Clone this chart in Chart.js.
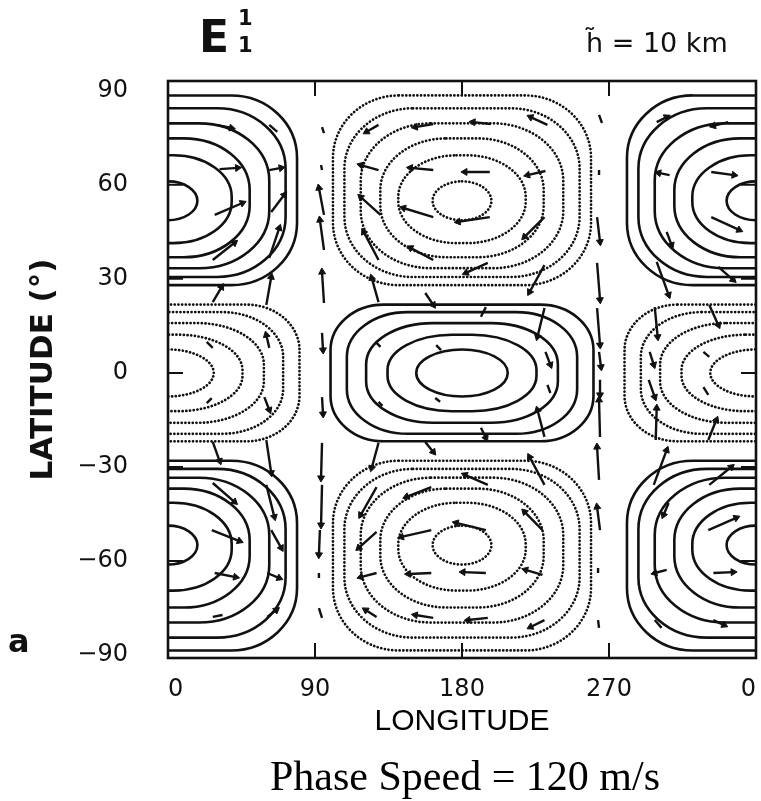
<!DOCTYPE html>
<html lang="en">
<head>
<meta charset="UTF-8">
<title>E 1 1 mode, h = 10 km</title>
<script src="https://cdn.jsdelivr.net/npm/chart.js"></script>
<style>
  body { margin: 0; background: #fff; }
</style>
</head>
<body>
<canvas id="modeChart" width="761" height="801"></canvas>
<script>
// axes
const latTicks = [-90, -60, -30, 0, 30, 60, 90];
const lonTicks = [0, 90, 180, 270, 360];
const lonTickLabels = ['0', '90', '180', '270', '0'];

// contour families (degrees)
// mid-latitude cells: half width in longitude, equator-side and pole-side latitude
const polarHalfLon = [18, 39, 50, 62, 72, 79];
const polarLatNear = [48.7, 41.4, 36.9, 33.4, 30.6, 28.0];
const polarLatFar = [61.1, 69.4, 74.8, 79.6, 84.4, 88.5];
// equatorial cells: half width in longitude and half height in latitude
const eqHalfLon = [28, 45.6, 58.7, 70.5, 80.5];
const eqHalfLat = [7.5, 12.2, 15.9, 19.4, 21.8];

// cells: centre longitude, family, hemisphere (1 north, -1 south, 0 equator), sign (1 solid, -1 dotted)
const cellLon = [0, 360, 0, 360, 180, 180, 180, 0, 360];
const cellFamily = ['polar', 'polar', 'polar', 'polar', 'eq', 'polar', 'polar', 'eq', 'eq'];
const cellHemi = [1, 1, -1, -1, 0, 1, -1, 0, 0];
const cellSign = [1, 1, 1, 1, 1, -1, -1, -1, -1];

// wind vectors: tail and head as [lon, lat]
const arrowTail = [
  [29.8, 79.1], [62, 79.1], [31.6, 65], [62, 64.7], [28.6, 50.4], [63.2, 51.3], [27.4, 36], [62, 36.7], [27.4, 22.6], [60.2, 21.7],
  [94.3, 78.4], [93.7, 66.3], [95.5, 50.4], [95.5, 39.2], [95.5, 22.3], [94.3, 12.8], [94.3, -7.7], [94.3, -22.3], [94.3, -35.7], [93, -50.1], [92.4, -63.8], [92.4, -75],
  [128.9, 79.1], [162.4, 79.4], [197.6, 79.4], [232.3, 79.1], [128.9, 64.7], [162.4, 64.7], [197, 64.1], [231.1, 64.4],
  [130.1, 50.4], [162.4, 49.7], [197, 49.7], [230.5, 49.7], [128.9, 36], [162.4, 36], [195.8, 35.1], [230.5, 34.4], [128.9, 22.6], [157.5, 25.5],
  [263.9, 82.3], [263.9, 64.7], [262.7, 49.7], [262.7, 35.1], [262.7, 20.7], [263.9, 6.7],
  [264.5, -2.2], [264.5, -20.4], [263.9, -34.1], [264.5, -50.1], [263.3, -62.2], [263.3, -78.8],
  [128.9, -22.3], [230.5, -35.7], [195.8, -35.7], [161.2, -36.4], [127.7, -36.4], [229.3, -50.1], [194.6, -50.1], [161.2, -50.1], [127.7, -50.7],
  [229.3, -64.4], [194.6, -63.8], [161.2, -63.8], [127.7, -63.8], [127.7, -77.8], [162.4, -78.1], [195.8, -78.1], [230.5, -78.8], [157.5, -22],
  [191.6, 17.9], [230.5, 20.7], [231.1, 6.7], [164.2, 8.9], [127.7, 9.6], [128.9, -9.2], [163.6, -8], [232.3, -3.8], [230.5, -20.4], [191.6, -17.5],
  [299.2, 80], [343, 80], [307.1, 63.1], [332.6, 64.1], [332.6, 49.7], [305.3, 45], [336.9, 33.8], [299.2, 35.4],
  [298, 21], [331.4, 21.7], [294.9, 6.7], [327.8, 6.7], [294.3, -2.2], [327.8, -4.5], [298.6, -21.4], [330.8, -21.4],
  [297.4, -35.7], [331.4, -35.7], [306.5, -41.5], [330.8, -50.1], [305.3, -62.8], [333.9, -63.8], [298, -78.8], [333.9, -78.8],
  [27.4, -22], [60.2, -21.4], [27.4, -35.1], [60.2, -35.7], [63.2, -50.1], [26.8, -50.1], [28.6, -63.8], [60.8, -63.8], [33.4, -77.2], [60.8, -77.8],
  [23.7, 9.9], [62, 8], [23.7, -9.6], [59, -7.7]
];
const arrowHead = [
  [38.9, 78.1], [66.9, 76.9], [42.6, 65.4], [69.3, 65.4], [45.6, 54.2], [71.2, 56.8], [40.7, 41.5], [68.1, 46.2], [32.8, 27.4], [63.2, 30.6],
  [95.5, 76.5], [94.3, 64.7], [92.4, 59], [93, 48.8], [94.3, 32.2], [94.9, 7.3], [94.9, -13.1], [93.7, -33.5], [93.7, -48.5], [92.4, -58], [92.4, -65.4], [94.3, -78.1],
  [121.6, 76.9], [151.4, 78.4], [186.7, 80], [222, 81.6], [118, 66.3], [148.4, 65.4], [181.8, 64.1], [220.1, 63.1],
  [118, 56.1], [144.1, 52.6], [177.6, 48.2], [218.3, 43.4], [119.8, 45], [148.4, 39.9], [182.4, 31.9], [221.4, 25.8], [124.7, 30.3], [162.4, 21.7],
  [265.7, 79.7], [263.9, 63.1], [264.5, 41.8], [264.5, 23.3], [264.5, 8.9], [265.1, 1.9],
  [264.5, -7], [263.9, -8.6], [262.7, -23.6], [262.7, -42.7], [263.3, -63.8], [263.9, -81.3],
  [124.7, -30.3], [221.4, -26.8], [181.8, -32.5], [146, -39.5], [118, -45.3], [218.3, -44.3], [176.4, -47.8], [142.9, -52.3], [116.8, -55.8],
  [218.9, -62.8], [180.6, -63.5], [147.2, -64.1], [118, -65.1], [121, -75.6], [151.4, -77.2], [183.7, -78.8], [222, -81], [162.4, -25.2],
  [194.6, 21], [226.2, 11.5], [234.1, 2.6], [167.2, 7.3], [130.1, 8.3], [131.3, -10.5], [166.6, -9.2], [234.1, -6.4], [226.2, -11.8], [194.6, -20.7],
  [305.3, 81.6], [333.9, 78.8], [300.4, 63.8], [346.6, 63.1], [349.7, 45.6], [308.3, 40.8], [346, 29.7], [306.5, 24.9],
  [299.8, 11.5], [336.9, 15.3], [297.4, 2.6], [331.4, 5.1], [298, -7.7], [330.8, -7], [299.2, -11.2], [335.7, -15],
  [305.3, -24.6], [344.8, -30], [303.4, -45.3], [347.9, -46.2], [298, -63.8], [346, -63.5], [302.2, -81.3], [340.5, -80.4],
  [31.6, -28.1], [63.2, -31.9], [40.7, -41.1], [65.1, -45.9], [69.3, -55.8], [43.8, -53.6], [41.4, -65.1], [68.1, -65.4], [27.4, -77.8], [66.3, -75.6],
  [27.4, 8], [60.2, 12.1], [26.8, -8], [62, -11.8]
];

// shape of each contour: 1 = ellipse, 0 = box with round corners
const polarRound = [1, 0.85, 0.65, 0.45, 0.25, 0.1];
const eqRound = [1, 0.8, 0.55, 0.3, 0.12];

const INK = '#111';
const KAPPA = 0.5523;

function roundedBox(ctx, x0, y0, x1, y1, rx, ry) {
  const kx = rx * KAPPA, ky = ry * KAPPA;
  ctx.moveTo(x0 + rx, y0);
  ctx.lineTo(x1 - rx, y0);
  ctx.bezierCurveTo(x1 - rx + kx, y0, x1, y0 + ry - ky, x1, y0 + ry);
  ctx.lineTo(x1, y1 - ry);
  ctx.bezierCurveTo(x1, y1 - ry + ky, x1 - rx + kx, y1, x1 - rx, y1);
  ctx.lineTo(x0 + rx, y1);
  ctx.bezierCurveTo(x0 + rx - kx, y1, x0, y1 - ry + ky, x0, y1 - ry);
  ctx.lineTo(x0, y0 + ry);
  ctx.bezierCurveTo(x0, y0 + ry - ky, x0 + rx - kx, y0, x0 + rx, y0);
  ctx.closePath();
}

const contourPlugin = {
  id: 'contours',
  beforeDatasetsDraw(chart) {
    const { ctx, chartArea: a, scales: { x, y } } = chart;
    ctx.save();
    ctx.beginPath();
    ctx.rect(a.left, a.top, a.width, a.height);
    ctx.clip();
    ctx.strokeStyle = INK;
    cellLon.forEach((c, i) => {
      const polar = cellFamily[i] === 'polar';
      const n = polar ? polarHalfLon.length : eqHalfLon.length;
      if (cellSign[i] > 0) {
        ctx.setLineDash([]);
        ctx.lineWidth = 2.6;
        ctx.lineCap = 'butt';
      } else {
        ctx.setLineDash([0.1, 3.6]);
        ctx.lineWidth = 2.7;
        ctx.lineCap = 'round';
      }
      for (let k = 0; k < n; k++) {
        let hw, latLo, latHi, t;
        if (polar) {
          hw = polarHalfLon[k];
          latLo = polarLatNear[k];
          latHi = polarLatFar[k];
          if (cellHemi[i] < 0) [latLo, latHi] = [-latHi, -latLo];
          t = polarRound[k];
        } else {
          hw = eqHalfLon[k];
          latLo = -eqHalfLat[k];
          latHi = eqHalfLat[k];
          t = eqRound[k];
        }
        const px0 = x.getPixelForValue(c - hw), px1 = x.getPixelForValue(c + hw);
        const py0 = y.getPixelForValue(latHi), py1 = y.getPixelForValue(latLo);
        const hx = (px1 - px0) / 2, hy = (py1 - py0) / 2;
        const r = 0.62 * Math.min(hx, hy);
        ctx.beginPath();
        roundedBox(ctx, px0, py0, px1, py1, r + (hx - r) * t, r + (hy - r) * t);
        ctx.stroke();
      }
    });
    ctx.restore();
  }
};

const framePlugin = {
  id: 'frame',
  afterDatasetsDraw(chart) {
    const { ctx, chartArea: a, scales: { x, y } } = chart;
    ctx.save();
    ctx.strokeStyle = INK;
    ctx.lineWidth = 2;
    ctx.beginPath();
    lonTicks.slice(1, -1).forEach(v => {
      const px = x.getPixelForValue(v);
      ctx.moveTo(px, a.top); ctx.lineTo(px, a.top + 15);
      ctx.moveTo(px, a.bottom); ctx.lineTo(px, a.bottom - 15);
    });
    latTicks.slice(1, -1).forEach(v => {
      const py = y.getPixelForValue(v);
      ctx.moveTo(a.left, py); ctx.lineTo(a.left + 15, py);
      ctx.moveTo(a.right, py); ctx.lineTo(a.right - 15, py);
    });
    ctx.stroke();
    ctx.lineWidth = 2.6;
    ctx.strokeRect(a.left, a.top, a.width, a.height);
    ctx.restore();
  }
};

const labelPlugin = {
  id: 'labels',
  afterDraw(chart) {
    const { ctx } = chart;
    ctx.save();
    ctx.fillStyle = INK;
    ctx.textBaseline = 'alphabetic';
    ctx.textAlign = 'left';
    ctx.font = 'bold 44px "DejaVu Sans"';
    ctx.fillText('E', 199, 52);
    ctx.font = 'bold 21px "DejaVu Sans"';
    ctx.fillText('1', 238, 25);
    ctx.fillText('1', 238, 52);
    ctx.font = '27px "DejaVu Sans"';
    ctx.fillText('h\u0303 = 10 km', 586, 52);
    ctx.font = 'bold 32px "DejaVu Sans"';
    ctx.fillText('a', 8, 652);
    ctx.textAlign = 'center';
    ctx.fillStyle = '#000';
    ctx.font = '42px "Liberation Serif"';
    ctx.fillText('Phase Speed = 120 m/s', 465, 790);
    ctx.restore();
  }
};

const shaftData = [];
arrowTail.forEach((p, i) => {
  shaftData.push({ x: p[0], y: p[1] }, { x: arrowHead[i][0], y: arrowHead[i][1] }, { x: arrowHead[i][0], y: null });
});
const headData = arrowHead.map(p => ({ x: p[0], y: p[1] }));

function arrowPixels(chart, i) {
  const { x, y } = chart.scales;
  const dx = x.getPixelForValue(arrowHead[i][0]) - x.getPixelForValue(arrowTail[i][0]);
  const dy = y.getPixelForValue(arrowHead[i][1]) - y.getPixelForValue(arrowTail[i][1]);
  return { dx, dy };
}

new Chart(document.getElementById('modeChart'), {
  type: 'scatter',
  data: {
    datasets: [
      {
        type: 'line',
        data: shaftData,
        borderColor: INK,
        borderWidth: 2.4,
        pointRadius: 0,
        spanGaps: false,
        tension: 0,
        fill: false
      },
      {
        type: 'scatter',
        data: headData,
        pointStyle: 'triangle',
        backgroundColor: INK,
        borderColor: INK,
        borderWidth: 1,
        pointRadius: ctx => {
          const { dx, dy } = arrowPixels(ctx.chart, ctx.dataIndex);
          return Math.hypot(dx, dy) < 11 ? 0 : 4;
        },
        pointRotation: ctx => {
          const { dx, dy } = arrowPixels(ctx.chart, ctx.dataIndex);
          return Math.atan2(dx, -dy) * 180 / Math.PI;
        }
      }
    ]
  },
  options: {
    responsive: false,
    animation: false,
    events: [],
    layout: { padding: { top: 81, right: 0, bottom: 0, left: 0 } },
    plugins: { legend: { display: false }, tooltip: { enabled: false } },
    scales: {
      x: {
        type: 'linear',
        min: 0,
        max: 360,
        afterBuildTicks: s => { s.ticks = lonTicks.map(v => ({ value: v })); },
        afterFit: s => { s.height = 143; s.paddingLeft = 0; s.paddingRight = 0; },
        grid: { display: false, drawTicks: false },
        border: { display: false },
        ticks: {
          callback: (v, i) => lonTickLabels[i],
          align: 'inner',
          padding: 17,
          autoSkip: false,
          maxRotation: 0,
          color: INK,
          font: { family: 'DejaVu Sans', size: 24 }
        },
        title: {
          display: true,
          text: 'LONGITUDE',
          color: '#000',
          padding: { top: 0, bottom: 61 },
          font: { family: 'Liberation Sans', size: 30 }
        }
      },
      y: {
        type: 'linear',
        min: -90.9,
        max: 93.1,
        afterBuildTicks: s => { s.ticks = latTicks.map(v => ({ value: v })); },
        afterFit: s => { s.width = 168; s.paddingTop = 0; s.paddingBottom = 0; },
        grid: { display: false, drawTicks: false },
        border: { display: false },
        ticks: {
          callback: v => (v < 0 ? '\u2212' + (-v) : String(v)),
          padding: 40,
          color: INK,
          font: { family: 'DejaVu Sans', size: 24 }
        },
        title: {
          display: true,
          text: 'LATITUDE (°)',
          color: INK,
          padding: { top: 25, bottom: 0 },
          font: { family: 'DejaVu Sans', size: 31, weight: 'bold' }
        }
      }
    }
  },
  plugins: [contourPlugin, framePlugin, labelPlugin]
});
</script>
</body>
</html>
